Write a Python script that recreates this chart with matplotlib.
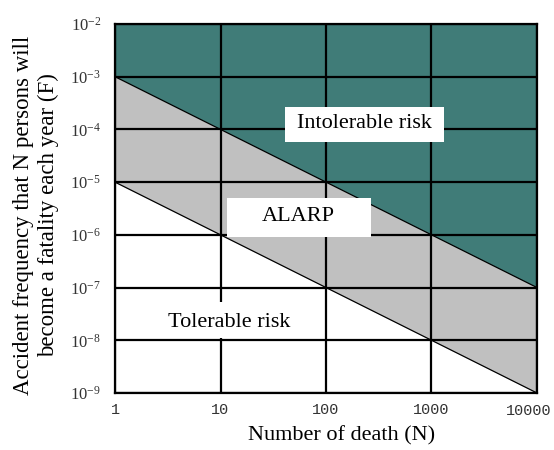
import numpy as np
import matplotlib.pyplot as plt
from matplotlib.patches import Rectangle

plt.rcParams["font.family"] = ["Liberation Serif", "DejaVu Serif"]
plt.rcParams["mathtext.fontset"] = "custom"
plt.rcParams["mathtext.rm"] = "Liberation Mono"

# ─── data ─────────────────────────────────────────────────────────────────────
n_deaths = [1, 10000]
upper_limit = [1e-3, 1e-7]     # intolerable / ALARP boundary
lower_limit = [1e-5, 1e-9]     # ALARP / tolerable boundary
x_ticks = [1, 10, 100, 1000, 10000]
x_labels = ["1", "10", "100", "1000", "10000"]
y_exps = [-9, -8, -7, -6, -5, -4, -3, -2]

teal = "#407c78"
gray = "#c0c0c0"

fig = plt.figure(figsize=(5.54, 4.50), dpi=100)
ax = fig.add_axes([0.2076, 0.1267, 0.7617, 0.82])
ax.set_xscale("log")
ax.set_yscale("log")
ax.set_xlim(1, 10000)
ax.set_ylim(1e-9, 1e-2)

ax.fill_between(n_deaths, upper_limit, [1e-2, 1e-2], color=teal, lw=0, zorder=1)
ax.fill_between(n_deaths, lower_limit, upper_limit, color=gray, lw=0, zorder=1)
ax.plot(n_deaths, upper_limit, color="black", lw=0.9, zorder=3)
ax.plot(n_deaths, lower_limit, color="black", lw=0.9, zorder=3)

# the last x label is drawn by hand, nudged left so it stays on the figure
ax.set_xticks(x_ticks)
ax.set_xticklabels(x_labels[:-1] + [""], family="Liberation Mono", fontsize=11)
ax.annotate(x_labels[-1], xy=(x_ticks[-1], 1e-9), xycoords="data",
            xytext=(-6, -7.6), textcoords="offset points", ha="center", va="top",
            family="Liberation Mono", fontsize=11, color="#333333",
            annotation_clip=False)
ax.set_yticks([10.0 ** e for e in y_exps])
ax.set_yticklabels([r"$\mathregular{10^{%d}}$" % e for e in y_exps], fontsize=12)
ax.minorticks_off()
ax.tick_params(axis="x", length=0, pad=7, colors="#333333")
ax.tick_params(axis="y", length=0, pad=10, colors="#333333")
ax.grid(True, color="black", lw=1.6, zorder=2)
ax.set_axisbelow(False)
for s in ax.spines.values():
    s.set_linewidth(1.6)
    s.set_zorder(4)

# label boxes (axes fraction): x0, y0, x1, y1, text x, text y
labels = [
    ("Intolerable risk", (0.403, 0.680, 0.780, 0.775), (0.590, 0.729)),
    ("ALARP", (0.265, 0.423, 0.607, 0.528), (0.434, 0.477)),
    ("Tolerable risk", (0.095, 0.149, 0.486, 0.247), (0.270, 0.192)),
]
for txt, (x0, y0, x1, y1), (tx, ty) in labels:
    ax.add_patch(Rectangle((x0, y0), x1 - x0, y1 - y0, transform=ax.transAxes,
                           facecolor="white", edgecolor="none", zorder=5))
    ax.text(tx, ty, txt, transform=ax.transAxes, ha="center", va="center",
            fontsize=16, zorder=6)

ax.set_xlabel("Number of death (N)", fontsize=16, va="center")
ax.xaxis.set_label_coords(0.536, -0.117)
ax.set_ylabel("Accident frequency that N persons will\nbecome a fatality each year (F)",
              fontsize=16.5, linespacing=1.2, va="center")
ax.yaxis.set_label_coords(-0.187, 0.482)

fig.savefig("out.png", dpi=100)
